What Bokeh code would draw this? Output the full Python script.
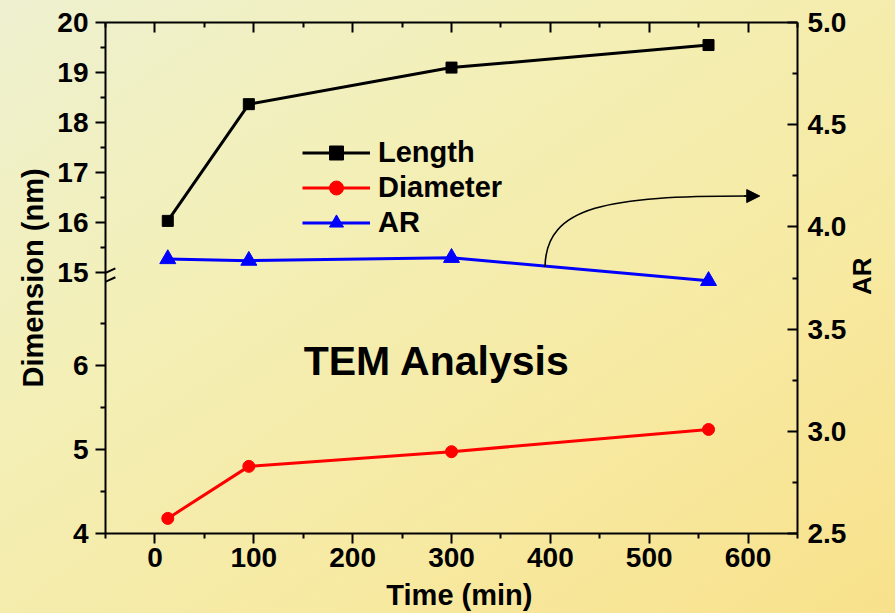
import math

from bokeh.plotting import figure
from bokeh.models import (Range1d, LinearAxis, FixedTicker, CustomJSTickFormatter,
                          PrintfTickFormatter, Legend, LegendItem, Label, Arrow, NormalHead)
from bokeh.embed import file_html
from bokeh.resources import INLINE

# ---- data -------------------------------------------------------------
time_min = [13, 95, 300, 560]
length_nm = [16.04, 18.37, 19.10, 19.55]
diameter_nm = [4.18, 4.80, 4.975, 5.24]
aspect_ratio = [3.843, 3.835, 3.849, 3.736]

x_ticks = [0, 100, 200, 300, 400, 500, 600]
x_minor = [-50, 50, 150, 250, 350, 450, 550, 650]
upper_ticks = [15, 16, 17, 18, 19, 20]
upper_minor = [15.5, 16.5, 17.5, 18.5, 19.5]
lower_ticks = [4, 5, 6]
lower_minor = [4.5, 5.5, 6.5]
ar_ticks = [2.5, 3.0, 3.5, 4.0, 4.5, 5.0]
ar_minor = [2.75, 3.25, 3.75, 4.25, 4.75]

# ---- ranges (broken dimension axis: two stacked scales) ----------------
AR_LO, AR_HI = 2.5, 5.0
UPPER = (9.80, 20.0)    # length segment, 15..20 visible above the break
LOWER = (4.0, 10.09)    # diameter segment, 4..7 visible below the break

FONT = "Liberation Sans"
TICK_SIZE = "28px"
LABEL_SIZE = "29px"

# where the axis titles sit along their axes
TIME_TITLE_AT = 308
AR_TITLE_START = 3.667


def to_main(v, rng):
    lo, hi = rng
    return AR_LO + (v - lo) / (hi - lo) * (AR_HI - AR_LO)


p = figure(width=895, height=613,
           x_range=Range1d(-50, 650), y_range=Range1d(AR_LO, AR_HI),
           output_backend="svg", toolbar_location=None,
           x_axis_location=None, y_axis_location=None,
           min_border_left=105, min_border_right=98,
           min_border_top=22, min_border_bottom=79,
           background_fill_alpha=0, border_fill_alpha=0,
           outline_line_color=None)
p.xgrid.grid_line_color = None
p.ygrid.grid_line_color = None
p.styles = {"background": "linear-gradient(to bottom right, #eef1d0 0%, #f3efb6 35%, "
                          "#f7e9a0 70%, #f8e18b 100%)"}
p.extra_y_ranges = {"upper": Range1d(*UPPER), "lower": Range1d(*LOWER)}


def style_axis(ax, size=TICK_SIZE):
    ax.axis_line_width = 2
    ax.major_tick_line_width = 2
    ax.minor_tick_line_width = 2
    ax.major_label_text_font = FONT
    ax.major_label_text_font_style = "bold"
    ax.major_label_text_font_size = size
    ax.major_label_text_color = "black"
    ax.axis_label_text_font = FONT
    ax.axis_label_text_font_style = "bold"
    ax.axis_label_text_font_size = LABEL_SIZE
    ax.axis_label_text_color = "black"


def title_axis(ax):
    # an axis that only carries a single text label
    ax.axis_line_color = None
    ax.major_tick_line_color = None
    ax.minor_tick_line_color = None
    ax.major_tick_in = 0
    ax.major_tick_out = 0
    ax.minor_tick_in = 0
    ax.minor_tick_out = 0


# bottom axis
bottom = LinearAxis(ticker=FixedTicker(ticks=x_ticks, minor_ticks=x_minor),
                    major_tick_out=10, major_tick_in=0,
                    minor_tick_out=5, minor_tick_in=0,
                    major_label_standoff=4)
style_axis(bottom)
p.add_layout(bottom, "below")

bottom_title = LinearAxis(ticker=FixedTicker(ticks=[TIME_TITLE_AT], minor_ticks=[]),
                          formatter=CustomJSTickFormatter(code="return 'Time (min)'"),
                          major_label_standoff=9)
style_axis(bottom_title, LABEL_SIZE)
title_axis(bottom_title)
p.add_layout(bottom_title, "below")

# top axis: ticks only
top = LinearAxis(ticker=FixedTicker(ticks=x_ticks, minor_ticks=x_minor),
                 formatter=CustomJSTickFormatter(code="return ''"),
                 major_tick_out=0, major_tick_in=10,
                 minor_tick_out=0, minor_tick_in=5,
                 major_label_standoff=0)
style_axis(top)
p.add_layout(top, "above")

# left broken axis (dimension)
left_pos = [to_main(v, LOWER) for v in lower_ticks] + [to_main(v, UPPER) for v in upper_ticks]
left_lab = [str(v) for v in lower_ticks] + [str(v) for v in upper_ticks]
left_minor = [to_main(v, LOWER) for v in lower_minor] + [to_main(v, UPPER) for v in upper_minor]
left_fmt = CustomJSTickFormatter(args=dict(pos=left_pos, labs=left_lab), code="""
    let best = 0;
    for (let i = 0; i < pos.length; i++) {
        if (Math.abs(pos[i] - tick) < Math.abs(pos[best] - tick)) best = i;
    }
    return labs[best];
""")
left = LinearAxis(ticker=FixedTicker(ticks=left_pos, minor_ticks=left_minor),
                  formatter=left_fmt, axis_label="Dimension (nm)",
                  major_tick_out=10, major_tick_in=0,
                  minor_tick_out=5, minor_tick_in=0,
                  major_label_standoff=7, axis_label_standoff=5)
style_axis(left)
p.add_layout(left, "left")

# right axis (aspect ratio)
right = LinearAxis(ticker=FixedTicker(ticks=ar_ticks, minor_ticks=ar_minor),
                   formatter=PrintfTickFormatter(format="%.1f"),
                   major_tick_out=0, major_tick_in=10,
                   minor_tick_out=0, minor_tick_in=5,
                   major_label_standoff=10)
style_axis(right)
p.add_layout(right, "right")

right_title = LinearAxis(ticker=FixedTicker(ticks=[AR_TITLE_START], minor_ticks=[]),
                         formatter=CustomJSTickFormatter(code="return 'AR'"),
                         major_label_orientation=math.pi / 2,
                         major_label_standoff=13)
style_axis(right_title, "26px")
title_axis(right_title)
p.add_layout(right_title, "right")

# axis break marks
for yv, rname, dy in [(15.0, "upper", 0.094), (7.0, "lower", 0.054)]:
    p.add_layout(Arrow(end=None, start=None, x_start=-60, y_start=yv - dy,
                       x_end=-40, y_end=yv + dy, y_range_name=rname,
                       line_color="black", line_width=2))

# ---- series ----------------------------------------------------------
l_len = p.line(time_min, length_nm, y_range_name="upper", line_color="black", line_width=3)
s_len = p.scatter(time_min, length_nm, y_range_name="upper", marker="square",
                  size=11, fill_color="black", line_color="black")

l_dia = p.line(time_min, diameter_nm, y_range_name="lower", line_color="#ff0000", line_width=3)
s_dia = p.scatter(time_min, diameter_nm, y_range_name="lower", marker="circle",
                  size=12, fill_color="#ff0000", line_color="#ff0000")

l_ar = p.line(time_min, aspect_ratio, line_color="#0000ff", line_width=3)
s_ar = p.scatter(time_min, aspect_ratio, marker="triangle",
                 size=16, fill_color="#0000ff", line_color="#0000ff")

legend = Legend(items=[LegendItem(label="Length", renderers=[l_len, s_len]),
                       LegendItem(label="Diameter", renderers=[l_dia, s_dia]),
                       LegendItem(label="AR", renderers=[l_ar, s_ar])],
                location=(197, 293), orientation="vertical",
                label_text_font=FONT, label_text_font_style="bold",
                label_text_font_size="29px", label_text_color="black",
                glyph_width=68, glyph_height=35, label_height=35,
                label_standoff=8, spacing=0, padding=0, margin=0,
                border_line_color=None, background_fill_alpha=0)
p.add_layout(legend)

# curved pointer from the AR line towards the right axis
p.bezier(x0=[394.6], y0=[3.805], x1=[598.7], y1=[4.151],
         cx0=[395.6], cy0=[4.106], cx1=[460.3], cy1=[4.151],
         line_color="black", line_width=1.6)
p.add_layout(Arrow(end=NormalHead(size=13, fill_color="black", line_color="black"),
                   x_start=596, y_start=4.151, x_end=611.8, y_end=4.151,
                   line_color="black", line_width=1.6))

p.add_layout(Label(x=150.5, y=3.345, text="TEM Analysis", text_align="left",
                   text_baseline="alphabetic", text_font=FONT,
                   text_font_style="bold", text_font_size="41px",
                   text_color="black"))

open("out.html", "w").write(file_html(p, INLINE))
